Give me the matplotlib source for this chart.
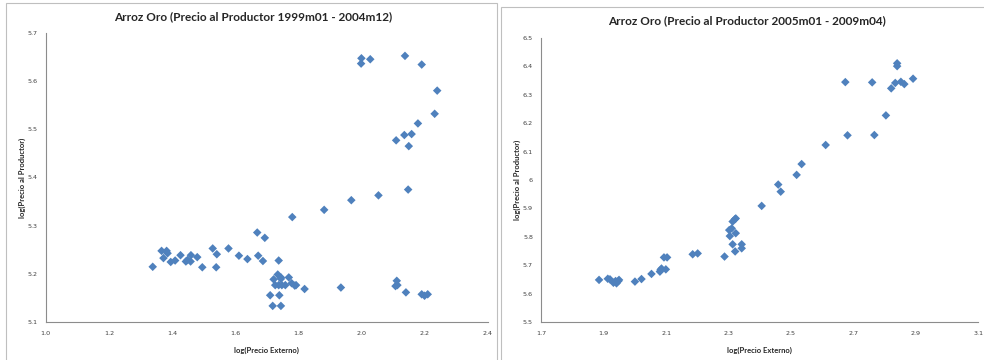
import matplotlib
matplotlib.use("Agg")
import matplotlib.pyplot as plt
from matplotlib.patches import Rectangle

# Panel 1: 1999m01 - 2004m12
x1 = [1.339, 1.367, 1.373, 1.383, 1.386, 1.396, 1.410, 1.427, 1.444, 1.449, 1.459, 1.460,
      1.480, 1.496, 1.529, 1.542, 1.540, 1.579, 1.612, 1.639, 1.670, 1.673, 1.688, 1.694,
      1.738, 1.781, 1.735, 1.722, 1.745, 1.745, 1.770, 1.727, 1.738, 1.748, 1.759, 1.779,
      1.789, 1.793, 1.711, 1.740, 1.719, 1.745, 1.820, 1.882, 1.935, 1.968, 2.054, 2.000,
      1.999, 2.028, 2.138, 2.191, 2.240, 2.232, 2.179, 2.136, 2.159, 2.110, 2.150, 2.148,
      2.108, 2.112, 2.114, 2.141, 2.191, 2.200, 2.210]
y1 = [5.215, 5.248, 5.233, 5.248, 5.243, 5.225, 5.228, 5.239, 5.226, 5.229, 5.226, 5.239,
      5.235, 5.214, 5.253, 5.241, 5.214, 5.253, 5.238, 5.231, 5.286, 5.238, 5.227, 5.275,
      5.228, 5.318, 5.199, 5.189, 5.193, 5.190, 5.193, 5.177, 5.177, 5.177, 5.177, 5.181,
      5.176, 5.177, 5.156, 5.156, 5.134, 5.134, 5.169, 5.333, 5.172, 5.353, 5.363, 5.647,
      5.636, 5.645, 5.652, 5.634, 5.580, 5.532, 5.512, 5.488, 5.490, 5.477, 5.465, 5.375,
      5.175, 5.186, 5.177, 5.162, 5.158, 5.155, 5.158]

# Panel 2: 2005m01 - 2009m04
x2 = [1.885, 1.913, 1.920, 1.931, 1.938, 1.941, 1.947, 1.949, 2.000, 2.021, 2.053, 2.080,
      2.082, 2.085, 2.099, 2.093, 2.103, 2.185, 2.201, 2.287, 2.302, 2.304, 2.310, 2.313,
      2.320, 2.323, 2.313, 2.323, 2.321, 2.342, 2.342, 2.406, 2.459, 2.467, 2.518, 2.534,
      2.611, 2.674, 2.681, 2.760, 2.767, 2.804, 2.821, 2.834, 2.840, 2.840, 2.852, 2.863,
      2.891]
y2 = [5.649, 5.653, 5.651, 5.639, 5.645, 5.637, 5.645, 5.649, 5.643, 5.652, 5.670, 5.678,
      5.684, 5.689, 5.686, 5.728, 5.728, 5.739, 5.742, 5.731, 5.824, 5.803, 5.830, 5.854,
      5.862, 5.865, 5.774, 5.813, 5.749, 5.774, 5.760, 5.909, 5.984, 5.959, 6.018, 6.056,
      6.123, 6.344, 6.157, 6.343, 6.158, 6.227, 6.322, 6.341, 6.410, 6.400, 6.345, 6.337,
      6.356]

titles = ["Arroz Oro (Precio al Productor 1999m01 - 2004m12)",
          "Arroz Oro (Precio al Productor 2005m01 - 2009m04)"]
xlabel = "log(Precio Externo)"
ylabel = "log(Precio al Productor)"
xticks1 = [1.0, 1.2, 1.4, 1.6, 1.8, 2.0, 2.2, 2.4]
xticklabels1 = ["1.0", "1.2", "1.4", "1.6", "1.8", "2.0", "2.2", "2.4"]
yticks1 = [5.1, 5.2, 5.3, 5.4, 5.5, 5.6, 5.7]
yticklabels1 = ["5.1", "5.2", "5.3", "5.4", "5.5", "5.6", "5.7"]
xticks2 = [1.7, 1.9, 2.1, 2.3, 2.5, 2.7, 2.9, 3.1]
xticklabels2 = ["1.7", "1.9", "2.1", "2.3", "2.5", "2.7", "2.9", "3.1"]
yticks2 = [5.5, 5.6, 5.7, 5.8, 5.9, 6.0, 6.1, 6.2, 6.3, 6.4, 6.5]
yticklabels2 = ["5.5", "5.6", "5.7", "5.8", "5.9", "6", "6.1", "6.2", "6.3", "6.4", "6.5"]

plt.rcParams['font.family'] = ['Lato', 'DejaVu Sans']
W, H = 984, 360
fig = plt.figure(figsize=(W / 100, H / 100), dpi=100)

# chart frames
fig.add_artist(Rectangle((6 / W, -0.05), (497 - 6) / W, 1.05 - 3 / H, transform=fig.transFigure,
                         fill=False, edgecolor="#BFBFBF", linewidth=0.8))
fig.add_artist(Rectangle((501 / W, -0.05), (W + 10 - 501) / W, 1.05 - 7 / H, transform=fig.transFigure,
                         fill=False, edgecolor="#BFBFBF", linewidth=0.8))

ax1 = fig.add_axes([45.7 / W, 1 - 322.3 / H, (487.7 - 45.7) / W, (322.3 - 32.7) / H])
ax2 = fig.add_axes([541.3 / W, 1 - 322.3 / H, (978.3 - 541.3) / W, (322.3 - 37.7) / H])

color = "#4F81BD"
specs = [
    (ax1, x1, y1, xticks1, xticklabels1, yticks1, yticklabels1, (1.0, 2.4), (5.1, 5.7), titles[0], 253, 17),
    (ax2, x2, y2, xticks2, xticklabels2, yticks2, yticklabels2, (1.7, 3.1), (5.5, 6.5), titles[1], 747, 21),
]
for ax, xs, ys, xt, xtl, yt, ytl, xl, yl, title, tx, ty in specs:
    ax.scatter(xs, ys, marker="D", s=19, color=color, edgecolors="none", zorder=3)
    ax.set_xlim(*xl)
    ax.set_ylim(*yl)
    ax.set_xticks(xt)
    ax.set_xticklabels(xtl, family="DejaVu Sans")
    ax.set_yticks(yt)
    ax.set_yticklabels(ytl, family="DejaVu Sans")
    ax.tick_params(length=0, labelsize=4.6, labelcolor="#404040", pad=6)
    for s in ["top", "right"]:
        ax.spines[s].set_visible(False)
    for s in ["left", "bottom"]:
        ax.spines[s].set_color("#8C8C8C")
        ax.spines[s].set_linewidth(0.8)
    ax.set_xlabel(xlabel, fontsize=5.5, fontweight="bold", color="#262626", labelpad=8)
    ax.set_ylabel(ylabel, fontsize=5.5, fontweight="bold", color="#262626", labelpad=1)
    fig.text(tx / W, 1 - ty / H, title, ha="center", va="center", fontsize=8.5,
             fontweight="bold", color="#262626")

fig.savefig("out.png", dpi=100)
